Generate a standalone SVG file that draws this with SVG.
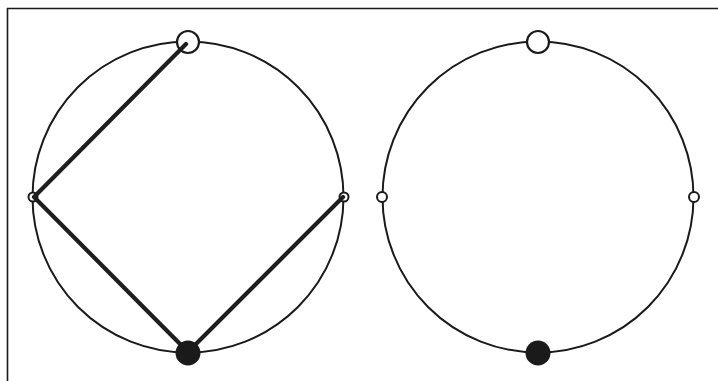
<svg xmlns="http://www.w3.org/2000/svg" width="718" height="381" viewBox="0 0 718 381">
<style>
.ring{fill:none;stroke:#1a1a1a;stroke-width:2}
.open{fill:#fff;stroke:#1a1a1a;stroke-width:2.2}
.small{fill:#fff;stroke:#1a1a1a;stroke-width:2}
.solid{fill:#1a1a1a;stroke:none}
.edge{fill:none;stroke:#1e1e1e;stroke-width:4.2;stroke-linecap:round;stroke-linejoin:round}
</style>
<rect width="718" height="381" fill="#fff"/>
<path d="M7.5,381 V8.5 H718" fill="none" stroke="#1a1a1a" stroke-width="1.6"/>
<g id="left-ring"><circle class="ring" cx="188" cy="197" r="155.5"/></g>
<g id="right-ring"><circle class="ring" cx="538" cy="197" r="155.5"/></g>
<g id="L-top"><circle class="open" cx="188" cy="42" r="11"/></g>
<g id="L-left"><circle class="small" cx="33" cy="197" r="4.5"/></g>
<g id="L-right"><circle class="small" cx="344" cy="197" r="4.5"/></g>
<g id="R-top"><circle class="open" cx="538" cy="42" r="11"/></g>
<g id="R-left"><circle class="small" cx="382" cy="197" r="5"/></g>
<g id="R-right"><circle class="small" cx="694" cy="197" r="5"/></g>
<g id="R-bottom"><circle class="solid" cx="538" cy="353" r="12.5"/></g>
<g id="connectors">
<path class="edge" d="M186,44 L34,197 L188,352 L343,197"/>
</g>
<g id="L-bottom"><circle class="solid" cx="188" cy="353" r="12.5"/></g>
</svg>
